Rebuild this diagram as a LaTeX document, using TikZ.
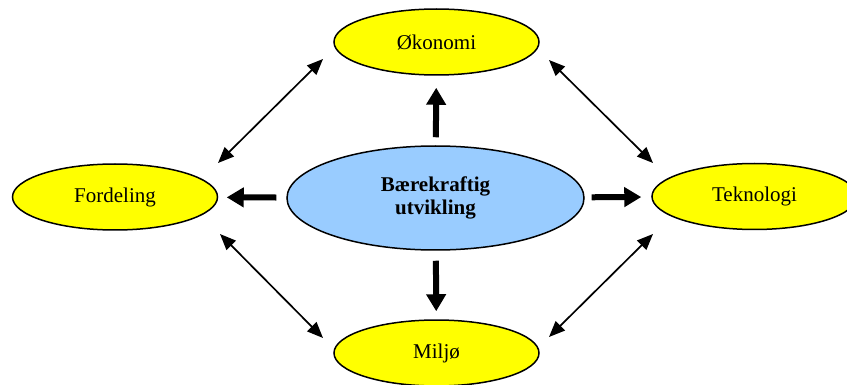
\documentclass[tikz,border=0pt]{standalone}
\usepackage{fontspec}
\setmainfont{Liberation Serif}
\usetikzlibrary{shapes.geometric,arrows.meta}
\definecolor{topicyellow}{HTML}{FFFF00}
\definecolor{coreblue}{HTML}{99CCFF}
\begin{document}
\begin{tikzpicture}[x=1pt,y=-1pt,
  topic/.style={ellipse,draw,line width=1.5pt,fill=topicyellow,
    minimum width=205pt,minimum height=66pt,inner sep=0pt,
    font=\fontsize{21}{24}\selectfont},
  core/.style={ellipse,draw,line width=1.5pt,fill=coreblue,
    minimum width=297pt,minimum height=104pt,inner sep=0pt,align=center,
    font=\fontsize{21}{23.5}\selectfont\bfseries},
  bigarrow/.style={line width=6pt,-{Triangle[length=17pt,width=19pt]}},
  linkarrow/.style={line width=1.7pt,{Triangle[length=16pt,width=13pt]}-{Triangle[length=16pt,width=13pt]}}
]
\useasboundingbox (0,0) rectangle (847,385);

% the four themes and the core idea
\node[topic] (ok) at (436.5,42) {Økonomi};
\node[topic] (fo) at (115,197) {Fordeling};
\node[topic] (te) at (754.5,196.5) {Teknologi};
\node[topic] (mi) at (436.5,353) {Miljø};
\node[core] (bu) at (435.5,198) {Bærekraftig\\utvikling};

% thick arrows from the core outward
\draw[bigarrow, shorten <=8pt, shorten >=12pt] (bu) -- (ok);
\draw[bigarrow, shorten <=10pt, shorten >=8pt] (bu) -- (mi);
\draw[bigarrow, shorten <=10pt, shorten >=8.5pt] (bu) -- (fo);
\draw[bigarrow, shorten <=7pt, shorten >=10pt] (bu) -- (te);

% free ends of the two-way links between the themes
\coordinate (fo-ok) at (218,163);
\coordinate (ok-fo) at (323,59);
\coordinate (ok-te) at (549,60);
\coordinate (te-ok) at (653,163);
\coordinate (fo-mi) at (220,234);
\coordinate (mi-fo) at (323,338);
\coordinate (te-mi) at (653,234);
\coordinate (mi-te) at (549,337);

\draw[linkarrow] (fo-ok) -- (ok-fo);
\draw[linkarrow] (ok-te) -- (te-ok);
\draw[linkarrow] (fo-mi) -- (mi-fo);
\draw[linkarrow] (te-mi) -- (mi-te);
\end{tikzpicture}
\end{document}
